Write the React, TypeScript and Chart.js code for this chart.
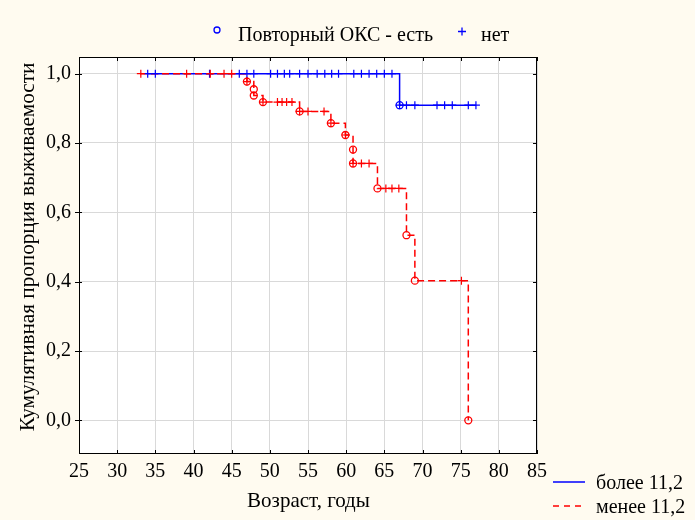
import React, { useEffect, useRef } from 'react';
import { Chart, registerables } from 'chart.js';

Chart.register(...registerables);

// Axis ticks
const xTickValues = [25, 30, 35, 40, 45, 50, 55, 60, 65, 70, 75, 80, 85];
const yTickValues = [0, 0.2, 0.4, 0.6, 0.8, 1.0];
const yTickLabels = ['0,0', '0,2', '0,4', '0,6', '0,8', '1,0'];

// Group "более 11,2" (blue)
const blueStartAge = 33.9;
const blueEndAge = 77;
const blueEventAges = [67];
const blueEventSurv = [0.909];
const blueCensAges = [34, 35, 42.1, 46, 47, 47.9, 50.1, 51, 51.9, 52.6, 53.9, 55, 56.2, 57.2, 58.1, 59, 61, 62, 63, 64, 65, 66, 67, 67.9, 69, 71.9, 72.9, 73.9, 76, 77];
const blueCensSurv = [1, 1, 1, 1, 1, 1, 1, 1, 1, 1, 1, 1, 1, 1, 1, 1, 1, 1, 1, 1, 1, 1, 0.909, 0.909, 0.909, 0.909, 0.909, 0.909, 0.909, 0.909];

// Group "менее 11,2" (red)
const redStartAge = 33;
const redEventAges = [47, 47.9, 47.9, 49.1, 53.9, 58, 59.9, 60.9, 60.9, 64.1, 67.9, 69, 76];
const redEventSurv = [0.977, 0.955, 0.937, 0.918, 0.891, 0.857, 0.823, 0.781, 0.741, 0.669, 0.534, 0.403, 0.0];
const redCensAges = [33.1, 39.1, 42.2, 44, 45, 47, 49.1, 51, 51.6, 52.2, 52.9, 53.9, 55, 57.1, 58, 59.9, 60.9, 62, 63, 65.2, 66, 66.9, 75.1];
const redCensSurv = [1, 1, 1, 1, 1, 0.977, 0.918, 0.918, 0.918, 0.918, 0.918, 0.891, 0.891, 0.891, 0.857, 0.823, 0.741, 0.741, 0.741, 0.669, 0.669, 0.669, 0.403];

const BLUE = '#0000ff';
const RED = '#ff0000';
const BG = '#fffbf0';
const FONT = '"Liberation Serif", "Times New Roman", serif';
const FS = 20;

const pts = (xs: number[], ys: number[]) => xs.map((x, i) => ({ x, y: ys[i] }));

export default function App() {
  const ref = useRef<HTMLCanvasElement>(null);

  useEffect(() => {
    const blueLine = [{ x: blueStartAge, y: 1 }, ...pts(blueEventAges, blueEventSurv), { x: blueEndAge, y: blueEventSurv[blueEventSurv.length - 1] }];
    const redLine = [{ x: redStartAge, y: 1 }, ...pts(redEventAges, redEventSurv)];

    const decor = {
      id: 'decor',
      beforeDraw(chart: any) {
        const { ctx, chartArea: a } = chart;
        ctx.save();
        ctx.fillStyle = BG;
        ctx.fillRect(0, 0, chart.width, chart.height);
        ctx.fillStyle = '#ffffff';
        ctx.fillRect(a.left, a.top, a.right - a.left, a.bottom - a.top);
        ctx.restore();
      },
      afterDraw(chart: any) {
        const { ctx, chartArea: a, scales } = chart;
        ctx.save();
        // frame
        ctx.strokeStyle = '#000';
        ctx.lineWidth = 1;
        ctx.strokeRect(a.left + 0.5, a.top + 0.5, a.right - a.left - 1, a.bottom - a.top - 1);
        // tick marks
        ctx.beginPath();
        xTickValues.forEach((v) => {
          const px = Math.round(scales.x.getPixelForValue(v)) + 0.5;
          ctx.moveTo(px, a.bottom);
          ctx.lineTo(px, a.bottom - 4);
          ctx.moveTo(px, a.top);
          ctx.lineTo(px, a.top + 4);
        });
        yTickValues.forEach((v) => {
          const py = Math.round(scales.y.getPixelForValue(v)) + 0.5;
          ctx.moveTo(a.left - 4, py);
          ctx.lineTo(a.left + 3, py);
          ctx.moveTo(a.right, py);
          ctx.lineTo(a.right - 4, py);
        });
        ctx.stroke();

        ctx.fillStyle = '#000';
        // axis titles
        ctx.font = `21px ${FONT}`;
        ctx.textAlign = 'center';
        ctx.textBaseline = 'alphabetic';
        ctx.fillText('Возраст, годы', 308.5, 507);
        ctx.save();
        ctx.translate(34, 247);
        ctx.rotate(-Math.PI / 2);
        ctx.font = `21.2px ${FONT}`;
        ctx.fillText('Кумулятивная пропорция выживаемости', 0, 0);
        ctx.restore();

        // top legend
        ctx.font = `${FS}px ${FONT}`;
        ctx.textAlign = 'left';
        ctx.lineWidth = 1.3;
        ctx.strokeStyle = BLUE;
        ctx.beginPath();
        ctx.arc(217, 30, 3, 0, Math.PI * 2);
        ctx.stroke();
        ctx.beginPath();
        ctx.moveTo(458, 31.5);
        ctx.lineTo(466, 31.5);
        ctx.moveTo(462, 27.5);
        ctx.lineTo(462, 35.5);
        ctx.stroke();
        ctx.fillText('Повторный ОКС - есть', 238, 41);
        ctx.fillText('нет', 481, 41);

        // bottom-right legend
        ctx.lineWidth = 1.5;
        ctx.strokeStyle = BLUE;
        ctx.beginPath();
        ctx.moveTo(553, 482);
        ctx.lineTo(585, 482);
        ctx.stroke();
        ctx.strokeStyle = RED;
        ctx.setLineDash([6, 5]);
        ctx.beginPath();
        ctx.moveTo(553, 506);
        ctx.lineTo(585, 506);
        ctx.stroke();
        ctx.setLineDash([]);
        ctx.fillText('более 11,2', 596, 489);
        ctx.fillText('менее 11,2', 596, 513);
        ctx.restore();
      },
    };

    const chart = new Chart(ref.current as HTMLCanvasElement, {
      type: 'line',
      data: {
        datasets: [
          {
            label: 'более 11,2',
            data: blueLine,
            borderColor: BLUE,
            borderWidth: 1.5,
            stepped: 'before',
            pointRadius: 0,
            fill: false,
            order: 3,
          },
          {
            label: 'менее 11,2',
            data: redLine,
            borderColor: RED,
            borderWidth: 1.5,
            borderDash: [7, 4],
            stepped: 'before',
            pointRadius: 0,
            fill: false,
            order: 2,
          },
          {
            label: 'blue events',
            data: pts(blueEventAges, blueEventSurv),
            showLine: false,
            pointStyle: 'circle',
            pointRadius: 3.5,
            pointBorderWidth: 1.3,
            pointBorderColor: BLUE,
            pointBackgroundColor: 'rgba(0,0,0,0)',
            order: 1,
          },
          {
            label: 'blue censored',
            data: pts(blueCensAges, blueCensSurv),
            showLine: false,
            pointStyle: 'cross',
            pointRadius: 4,
            pointBorderWidth: 1.2,
            pointBorderColor: BLUE,
            order: 1,
          },
          {
            label: 'red events',
            data: pts(redEventAges, redEventSurv),
            showLine: false,
            pointStyle: 'circle',
            pointRadius: 3.5,
            pointBorderWidth: 1.3,
            pointBorderColor: RED,
            pointBackgroundColor: 'rgba(0,0,0,0)',
            order: 0,
          },
          {
            label: 'red censored',
            data: pts(redCensAges, redCensSurv),
            showLine: false,
            pointStyle: 'cross',
            pointRadius: 4,
            pointBorderWidth: 1.2,
            pointBorderColor: RED,
            order: 0,
          },
        ],
      },
      options: {
        animation: false,
        responsive: false,
        devicePixelRatio: 1,
        layout: { padding: { left: 0, top: 57, right: 158, bottom: 0 } },
        plugins: { legend: { display: false }, tooltip: { enabled: false } },
        scales: {
          x: {
            type: 'linear',
            min: 25,
            max: 85,
            afterBuildTicks: (s: any) => {
              s.ticks = xTickValues.map((v) => ({ value: v }));
            },
            afterFit: (s: any) => {
              s.height = 66;
            },
            grid: { color: '#d9d9d9', lineWidth: 1, drawTicks: false },
            border: { display: false },
            ticks: {
              padding: 6,
              autoSkip: false,
              maxRotation: 0,
              color: '#000',
              font: { family: FONT, size: FS },
              callback: (v: any) => String(v),
            },
          },
          y: {
            type: 'linear',
            min: -0.097,
            max: 1.048,
            afterBuildTicks: (s: any) => {
              s.ticks = yTickValues.map((v) => ({ value: v }));
            },
            afterFit: (s: any) => {
              s.width = 79;
            },
            grid: { color: '#d9d9d9', lineWidth: 1, drawTicks: false },
            border: { display: false },
            ticks: {
              padding: 8,
              color: '#000',
              font: { family: FONT, size: FS },
              callback: (v: any) => {
                const i = yTickValues.findIndex((t) => Math.abs(t - v) < 1e-6);
                return i >= 0 ? yTickLabels[i] : '';
              },
            },
          },
        },
      },
      plugins: [decor],
    });
    return () => chart.destroy();
  }, []);

  return (
    <div style={{ position: 'fixed', left: 0, top: 0, width: 695, height: 520 }}>
      <canvas ref={ref} width={695} height={520} style={{ display: 'block' }} />
    </div>
  );
}
